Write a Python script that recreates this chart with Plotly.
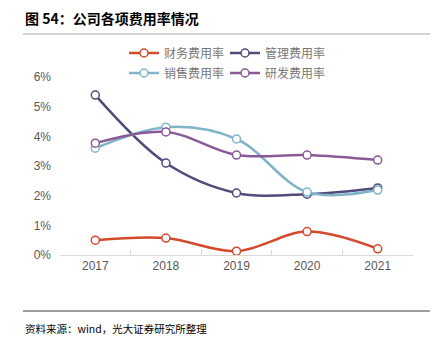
import plotly.graph_objects as go

years = ["2017", "2018", "2019", "2020", "2021"]
fin_rate = [0.50, 0.57, 0.13, 0.79, 0.21]
mgmt_rate = [5.39, 3.10, 2.09, 2.05, 2.26]
sales_rate = [3.60, 4.31, 3.91, 2.12, 2.19]
rd_rate = [3.77, 4.15, 3.37, 3.37, 3.20]

names = ["财务费用率", "管理费用率", "销售费用率", "研发费用率"]
colors = ["#D44A2C", "#4F4B7B", "#7FB4C9", "#8A5A98"]
series = [fin_rate, mgmt_rate, sales_rate, rd_rate]
legend_ids = ["legend", "legend", "legend2", "legend2"]

FONT = "Arial, 'Liberation Sans', 'Noto Sans CJK SC', sans-serif"

fig = go.Figure()
for name, col, vals, lg in zip(names, colors, series, legend_ids):
    fig.add_trace(go.Scatter(
        x=years, y=vals, name=name, mode="lines+markers",
        line=dict(color=col, width=2.5, shape="spline", smoothing=1.0),
        marker=dict(symbol="circle", size=8, color="white",
                    line=dict(color=col, width=1.5)),
        legend=lg,
    ))

W, H = 438, 357
L, R, T, B = 60, 25, 77, 102
ph = H - T - B
pw = W - L - R

def py(ypix):
    return (H - B - ypix) / ph

def px(xpix):
    return (xpix - L) / pw

legend_common = dict(
    orientation="h", xanchor="left", yanchor="middle",
    font=dict(family=FONT, size=12, color="#777777"),
    bgcolor="rgba(0,0,0,0)", itemwidth=30,
    entrywidth=56, entrywidthmode="pixels",
)

fig.update_layout(
    width=W, height=H,
    margin=dict(l=L, r=R, t=T, b=B),
    paper_bgcolor="white", plot_bgcolor="white",
    font=dict(family=FONT, size=12, color="#595959"),
    showlegend=True,
    legend=dict(x=px(124), y=py(53), **legend_common),
    legend2=dict(x=px(124), y=py(73), **legend_common),
    xaxis=dict(
        type="category", range=[-0.5, 4.5],
        showline=True, linecolor="#D9D9D9", linewidth=1,
        ticks="inside", tickson="boundaries", ticklen=5, tickcolor="#D9D9D9",
        showgrid=False, zeroline=False,
        tickfont=dict(family=FONT, size=12, color="#595959"),
    ),
    yaxis=dict(
        range=[0, 6], dtick=1, ticksuffix="%",
        showgrid=False, zeroline=False, showline=False, ticks="",
        ticklabelstandoff=8,
        tickfont=dict(family=FONT, size=12, color="#595959"),
    ),
    shapes=[
        dict(type="line", xref="paper", yref="paper",
             x0=px(23), x1=px(430), y0=py(34), y1=py(34),
             line=dict(color="#A6A6A6", width=1)),
        dict(type="line", xref="paper", yref="paper",
             x0=px(23), x1=px(430), y0=py(311), y1=py(311),
             line=dict(color="#404040", width=1.2)),
    ],
    annotations=[
        dict(text="<b>图 54：公司各项费用率情况</b>", xref="paper", yref="paper",
             x=px(23), y=py(18), xanchor="left", yanchor="middle",
             showarrow=False,
             font=dict(family="'Noto Sans CJK SC', sans-serif", size=14, color="#000000")),
        dict(text="资料来源：wind，光大证券研究所整理", xref="paper", yref="paper",
             x=px(23), y=py(328), xanchor="left", yanchor="middle",
             showarrow=False,
             font=dict(family="'Noto Sans CJK SC', sans-serif", size=10.5, color="#000000")),
    ],
)

fig.write_html("out.html",
               config={"displayModeBar": False},
               post_script="document.body.style.margin='0';document.body.style.padding='0';")
